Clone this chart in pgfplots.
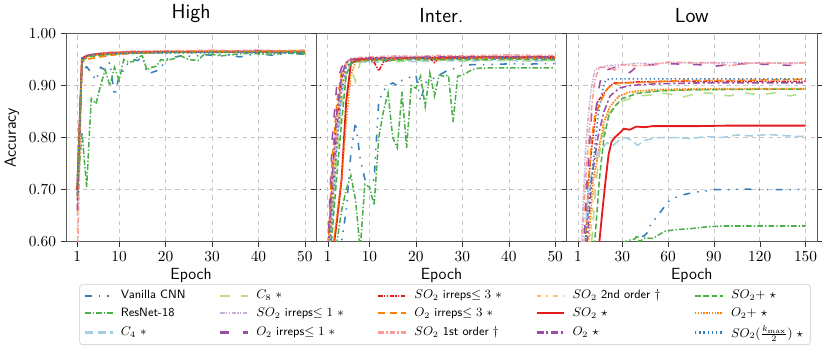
\documentclass[border=0pt]{standalone}
\usepackage{pgfplots}
\pgfplotsset{compat=1.18}

\definecolor{cblue}{HTML}{377EB8}
\definecolor{cgreen}{HTML}{4DAF4A}
\definecolor{clblue}{HTML}{A6CEE3}
\definecolor{clgreen}{HTML}{B2DF8A}
\definecolor{clpurple}{HTML}{CAB2D6}
\definecolor{cpurple}{HTML}{984EA3}
\definecolor{cred}{HTML}{E41A1C}
\definecolor{corange}{HTML}{FF7F00}
\definecolor{cpink}{HTML}{FB9A99}
\definecolor{clorange}{HTML}{FDBF6F}

\pgfplotsset{
  sVan/.style={draw=cblue, line width=1.1pt, dash pattern=on 5pt off 5pt on 1pt off 5pt on 1pt off 5pt},
  sRes/.style={draw=cgreen, line width=1.1pt, dash pattern=on 4pt off 1.5pt on 1pt off 1.5pt},
  sCfour/.style={draw=clblue, line width=1.1pt, dash pattern=on 6pt off 3pt},
  sCeight/.style={draw=clgreen, line width=1.1pt, dash pattern=on 7pt off 8pt},
  sSOa/.style={draw=clpurple, line width=1.1pt, dash pattern=on 3pt off 1pt on 1pt off 1pt on 1pt off 1pt},
  sOa/.style={draw=cpurple, line width=1.1pt, dash pattern=on 6pt off 10pt},
  sSOb/.style={draw=cred, line width=1.1pt, dash pattern=on 3pt off 1pt on 1pt off 1pt on 1pt off 1pt},
  sOb/.style={draw=corange, line width=1.1pt, dash pattern=on 5pt off 3pt},
  sFirst/.style={draw=cpink, line width=1.1pt, dash pattern=on 4pt off 1.5pt on 1pt off 1.5pt},
  sSecond/.style={draw=clorange, line width=1.1pt, dash pattern=on 3pt off 4pt on 1pt off 4pt},
  sSO/.style={draw=cred, line width=1.3pt, solid},
  sO/.style={draw=cpurple, line width=1.1pt, dash pattern=on 5pt off 2pt on 1.5pt off 2pt},
  sSOp/.style={draw=cgreen, line width=1.1pt, dash pattern=on 4pt off 2pt},
  sOp/.style={draw=corange, line width=1.1pt, dash pattern=on 1pt off 1pt},
  sKmax/.style={draw=cblue, line width=1.1pt, dash pattern=on 1pt off 2pt},
  panel/.style={
    width=178.5pt, height=148.4pt, scale only axis,
    ymin=0.6, ymax=1.0, ytick={0.6,0.7,0.8,0.9,1.0},
    grid=major, grid style={dashed, gray!45, line width=0.4pt},
    tick align=outside, xtick pos=bottom, ytick pos=both,
    major tick length=3.5pt,
    axis line style={black!65}, tick style={black!80},
    tick label style={font=\fontsize{11}{13}\selectfont},
    yticklabel style={/pgf/number format/.cd, fixed, fixed zerofill, precision=2},
    title style={font=\fontsize{14.5}{16}\selectfont\sffamily, yshift=-2pt},
    label style={font=\fontsize{11.5}{13}\selectfont\sffamily},
    xlabel={Epoch}, xlabel style={yshift=2pt},
    legend image code/.code={\draw[#1, line width=1.5pt] (0cm,0cm) -- (0.7cm,0cm);},
  },
}

\begin{document}
\begin{tikzpicture}
% ---------------- High ----------------
\begin{axis}[panel, name=a1, title={High}, ylabel={Accuracy},
  xmin=-1.45, xmax=52.45, xtick={1,10,20,30,40,50}]
\addplot[sVan] coordinates {(1,0.70)(2,0.93)(3,0.936)(4,0.925)(5,0.91)(6,0.935)(7,0.93)(8,0.945)(9,0.88)(10,0.918)(11,0.93)(12,0.944)(13,0.95)(14,0.948)(15,0.955)(16,0.924)(17,0.925)(18,0.928)(19,0.933)(20,0.95)(22,0.955)(24,0.958)(26,0.955)(28,0.96)(30,0.958)(33,0.96)(36,0.955)(40,0.962)(43,0.958)(46,0.962)(50,0.96)};
\addplot[sRes] coordinates {(1,0.69)(2,0.81)(3,0.705)(4,0.875)(5,0.865)(6,0.90)(7,0.93)(8,0.90)(9,0.935)(10,0.91)(11,0.95)(12,0.945)(13,0.946)(14,0.955)(15,0.957)(16,0.93)(17,0.935)(18,0.937)(19,0.95)(20,0.948)(22,0.952)(23,0.958)(25,0.95)(27,0.948)(28,0.958)(30,0.96)(32,0.957)(35,0.96)(38,0.962)(42,0.96)(46,0.962)(50,0.961)};
\addplot[sCfour] coordinates {(1,0.72)(2,0.948)(3,0.954)(4,0.957)(6,0.959)(8,0.961)(10,0.962)(13,0.963)(16,0.962)(20,0.964)(25,0.963)(30,0.965)(35,0.964)(40,0.965)(45,0.964)(50,0.965)};
\addplot[sCeight] coordinates {(1,0.70)(2,0.950)(3,0.955)(4,0.958)(6,0.960)(8,0.957)(10,0.962)(13,0.963)(16,0.964)(20,0.963)(25,0.964)(30,0.965)(35,0.964)(40,0.965)(45,0.965)(50,0.964)};
\addplot[sSOa] coordinates {(1,0.65)(2,0.953)(3,0.958)(4,0.960)(6,0.962)(8,0.963)(10,0.964)(13,0.965)(16,0.964)(20,0.966)(25,0.965)(30,0.967)(35,0.966)(40,0.966)(45,0.967)(50,0.966)};
\addplot[sOa] coordinates {(1,0.68)(2,0.952)(3,0.957)(4,0.959)(6,0.961)(8,0.963)(10,0.963)(13,0.964)(16,0.965)(20,0.965)(25,0.966)(30,0.965)(35,0.966)(40,0.967)(45,0.966)(50,0.966)};
\addplot[sSOb] coordinates {(1,0.70)(2,0.951)(3,0.956)(4,0.959)(6,0.961)(8,0.962)(10,0.964)(13,0.963)(16,0.965)(20,0.965)(25,0.964)(30,0.966)(35,0.965)(40,0.965)(45,0.966)(50,0.965)};
\addplot[sOb] coordinates {(1,0.70)(2,0.945)(3,0.950)(4,0.952)(6,0.955)(8,0.958)(10,0.960)(13,0.962)(16,0.963)(20,0.964)(25,0.965)(30,0.965)(35,0.966)(40,0.966)(45,0.966)(50,0.967)};
\addplot[sFirst] coordinates {(1,0.55)(2,0.950)(3,0.957)(4,0.960)(6,0.962)(8,0.964)(10,0.965)(13,0.966)(16,0.966)(20,0.967)(25,0.967)(30,0.968)(35,0.967)(40,0.968)(45,0.967)(50,0.968)};
\addplot[sSecond] coordinates {(1,0.62)(2,0.950)(3,0.956)(4,0.959)(6,0.961)(8,0.963)(10,0.964)(13,0.965)(16,0.965)(20,0.966)(25,0.966)(30,0.967)(35,0.966)(40,0.967)(45,0.967)(50,0.967)};
\addplot[sSO] coordinates {(1,0.70)(2,0.952)(3,0.957)(4,0.959)(6,0.961)(8,0.962)(10,0.963)(13,0.964)(16,0.964)(20,0.965)(25,0.965)(30,0.965)(35,0.965)(40,0.965)(45,0.965)(50,0.965)};
\addplot[sO] coordinates {(1,0.66)(2,0.951)(3,0.956)(4,0.959)(6,0.961)(8,0.962)(10,0.963)(13,0.964)(16,0.964)(20,0.965)(25,0.964)(30,0.965)(35,0.965)(40,0.966)(45,0.965)(50,0.965)};
\addplot[sSOp] coordinates {(1,0.69)(2,0.948)(3,0.953)(4,0.956)(6,0.958)(8,0.960)(10,0.961)(13,0.962)(16,0.963)(20,0.963)(25,0.964)(30,0.964)(35,0.964)(40,0.964)(45,0.965)(50,0.964)};
\addplot[sOp] coordinates {(1,0.72)(2,0.949)(3,0.955)(4,0.958)(6,0.960)(8,0.962)(10,0.963)(13,0.963)(16,0.964)(20,0.964)(25,0.965)(30,0.965)(35,0.965)(40,0.965)(45,0.966)(50,0.965)};
\addplot[sKmax] coordinates {(1,0.71)(2,0.951)(3,0.956)(4,0.959)(6,0.960)(8,0.961)(10,0.962)(13,0.962)(16,0.963)(20,0.963)(25,0.963)(30,0.963)(35,0.964)(40,0.963)(45,0.963)(50,0.963)};
\end{axis}

% ---------------- Inter. ----------------
\begin{axis}[panel, name=a2, at={(a1.south east)}, anchor=south west, title={Inter.},
  yticklabels={}, xmin=-1.45, xmax=52.45, xtick={1,10,20,30,40,50}]
\addplot[sVan] coordinates {(1,0.40)(2,0.50)(3,0.56)(4,0.60)(5,0.66)(6,0.77)(7,0.83)(8,0.76)(9,0.72)(10,0.705)(11,0.72)(12,0.87)(13,0.89)(14,0.90)(15,0.905)(16,0.90)(17,0.91)(18,0.912)(19,0.918)(20,0.92)(21,0.87)(22,0.905)(23,0.91)(24,0.915)(25,0.92)(26,0.925)(27,0.93)(28,0.932)(29,0.937)(30,0.938)(32,0.94)(35,0.94)(38,0.941)(41,0.942)(44,0.941)(47,0.942)(50,0.942)};
\addplot[sRes] coordinates {(1,0.40)(2,0.50)(3,0.60)(4,0.66)(5,0.70)(6,0.727)(7,0.68)(8,0.585)(9,0.71)(10,0.705)(11,0.67)(12,0.80)(13,0.85)(14,0.886)(15,0.80)(16,0.78)(17,0.888)(18,0.78)(19,0.90)(20,0.895)(21,0.918)(22,0.86)(23,0.924)(24,0.88)(25,0.92)(26,0.918)(27,0.92)(28,0.83)(29,0.918)(30,0.92)(31,0.925)(32,0.93)(33,0.933)(36,0.934)(40,0.934)(45,0.934)(50,0.934)};
\addplot[sCfour] coordinates {(1,0.55)(2,0.66)(3,0.78)(4,0.88)(5,0.93)(6,0.944)(7,0.945)(8,0.946)(10,0.944)(13,0.946)(16,0.947)(20,0.946)(25,0.948)(30,0.947)(35,0.948)(40,0.948)(45,0.947)(50,0.948)};
\addplot[sCeight] coordinates {(1,0.54)(2,0.64)(3,0.76)(4,0.86)(5,0.92)(6,0.93)(7,0.908)(8,0.945)(10,0.947)(13,0.948)(16,0.946)(20,0.948)(25,0.949)(30,0.948)(35,0.949)(40,0.949)(45,0.948)(50,0.949)};
\addplot[sSOa] coordinates {(1,0.56)(2,0.72)(3,0.84)(4,0.92)(5,0.945)(6,0.950)(8,0.952)(10,0.953)(13,0.954)(16,0.953)(20,0.955)(25,0.954)(30,0.956)(35,0.955)(40,0.955)(45,0.956)(50,0.955)};
\addplot[sOa] coordinates {(1,0.58)(2,0.80)(3,0.905)(4,0.935)(5,0.945)(6,0.950)(8,0.952)(10,0.953)(13,0.952)(16,0.954)(20,0.955)(25,0.954)(30,0.955)(35,0.956)(40,0.955)(45,0.956)(50,0.956)};
\addplot[sSOb] coordinates {(1,0.55)(2,0.70)(3,0.82)(4,0.91)(5,0.945)(6,0.950)(8,0.952)(10,0.950)(11,0.945)(12,0.928)(13,0.945)(15,0.952)(18,0.953)(21,0.954)(23,0.952)(24,0.944)(25,0.952)(28,0.955)(32,0.954)(36,0.955)(40,0.956)(45,0.955)(50,0.955)};
\addplot[sOb] coordinates {(1,0.57)(2,0.76)(3,0.87)(4,0.925)(5,0.943)(6,0.948)(8,0.950)(10,0.951)(13,0.952)(16,0.953)(20,0.953)(25,0.954)(30,0.954)(35,0.955)(40,0.954)(45,0.955)(50,0.955)};
\addplot[sFirst] coordinates {(1,0.54)(2,0.70)(3,0.83)(4,0.915)(5,0.945)(6,0.952)(8,0.954)(10,0.955)(13,0.956)(16,0.957)(20,0.956)(25,0.958)(30,0.957)(35,0.958)(40,0.959)(45,0.958)(50,0.958)};
\addplot[sSecond] coordinates {(1,0.55)(2,0.69)(3,0.81)(4,0.90)(5,0.94)(6,0.948)(8,0.950)(10,0.952)(13,0.951)(16,0.953)(20,0.952)(25,0.954)(30,0.953)(35,0.954)(40,0.954)(45,0.953)(50,0.954)};
\addplot[sSO] coordinates {(1,0.50)(2,0.57)(3,0.64)(4,0.72)(5,0.87)(6,0.942)(7,0.948)(8,0.950)(10,0.951)(13,0.952)(16,0.952)(20,0.953)(25,0.953)(30,0.953)(35,0.954)(40,0.953)(45,0.954)(50,0.953)};
\addplot[sO] coordinates {(1,0.56)(2,0.73)(3,0.85)(4,0.92)(5,0.944)(6,0.950)(8,0.952)(10,0.953)(13,0.953)(16,0.954)(20,0.954)(25,0.955)(30,0.955)(35,0.955)(40,0.955)(45,0.955)(50,0.955)};
\addplot[sSOp] coordinates {(1,0.52)(2,0.62)(3,0.73)(4,0.83)(5,0.92)(6,0.943)(8,0.947)(10,0.948)(13,0.949)(16,0.949)(20,0.950)(25,0.950)(30,0.950)(35,0.950)(40,0.951)(45,0.950)(50,0.950)};
\addplot[sOp] coordinates {(1,0.50)(2,0.58)(3,0.65)(4,0.72)(5,0.83)(6,0.92)(7,0.945)(8,0.948)(10,0.950)(13,0.951)(16,0.951)(20,0.952)(25,0.952)(30,0.952)(35,0.953)(40,0.952)(45,0.953)(50,0.952)};
\addplot[sKmax] coordinates {(1,0.53)(2,0.66)(3,0.79)(4,0.89)(5,0.935)(6,0.946)(8,0.949)(10,0.950)(13,0.951)(16,0.951)(20,0.952)(25,0.952)(30,0.952)(35,0.952)(40,0.953)(45,0.952)(50,0.952)};
\end{axis}

% ---------------- Low ----------------
\begin{axis}[panel, name=a3, at={(a2.south east)}, anchor=south west, title={Low},
  yticklabels={}, xmin=-6.45, xmax=157.45, xtick={1,30,60,90,120,150},
  legend columns=5, legend cell align=left,
  legend style={at={(-0.486,-0.205)}, anchor=north, draw=black!20, rounded corners=2pt,
    fill=white, font=\fontsize{8.6}{10}\selectfont\sffamily, row sep=1pt,
    /tikz/every even column/.append style={column sep=22pt},
    /tikz/every odd column/.append style={column sep=3pt}}]
% row 1
\addplot[sVan] coordinates {(1,0.35)(20,0.50)(37,0.60)(40,0.613)(44,0.61)(47,0.619)(49,0.637)(52,0.645)(55,0.657)(60,0.677)(65,0.685)(70,0.69)(77,0.695)(84,0.697)(90,0.70)(100,0.70)(110,0.701)(120,0.70)(130,0.70)(140,0.70)(150,0.701)};
\addlegendentry{Vanilla CNN}
\addplot[sCeight] coordinates {(1,0.40)(10,0.60)(13,0.72)(16,0.79)(20,0.84)(25,0.86)(30,0.87)(40,0.88)(50,0.882)(55,0.886)(60,0.884)(70,0.878)(80,0.886)(90,0.885)(100,0.880)(110,0.886)(120,0.882)(130,0.886)(140,0.880)(150,0.886)};
\addlegendentry{$C_8\ \ast$}
\addplot[sSOb] coordinates {(1,0.40)(6,0.60)(8,0.72)(10,0.78)(12,0.83)(14,0.87)(18,0.885)(22,0.90)(25,0.905)(30,0.905)(40,0.907)(60,0.908)(90,0.908)(120,0.908)(150,0.908)};
\addlegendentry{$SO_2$ irreps$\leq 3\ \ast$}
\addplot[sSecond] coordinates {(1,0.40)(9,0.60)(12,0.72)(15,0.79)(18,0.83)(22,0.86)(28,0.88)(40,0.888)(60,0.89)(90,0.892)(120,0.892)(150,0.893)};
\addlegendentry{$SO_2$ 2nd order $\dagger$}
\addplot[sSOp] coordinates {(1,0.40)(12,0.60)(15,0.72)(18,0.80)(21,0.84)(25,0.86)(30,0.875)(40,0.885)(55,0.89)(80,0.892)(120,0.893)(150,0.893)};
\addlegendentry{$SO_2{+}\ \star$}
% row 2
\addplot[sRes] coordinates {(1,0.40)(20,0.55)(30,0.598)(35,0.603)(38,0.605)(40,0.612)(41,0.60)(45,0.607)(50,0.606)(55,0.615)(58,0.62)(65,0.623)(75,0.625)(84,0.628)(95,0.63)(110,0.63)(130,0.63)(150,0.63)};
\addlegendentry{ResNet-18}
\addplot[sSOa] coordinates {(1,0.40)(3,0.58)(4,0.65)(6,0.78)(8,0.85)(10,0.90)(12,0.93)(15,0.935)(20,0.938)(30,0.94)(40,0.943)(50,0.942)(60,0.944)(80,0.943)(100,0.944)(120,0.943)(150,0.944)};
\addlegendentry{$SO_2$ irreps$\leq 1\ \ast$}
\addplot[sOb] coordinates {(1,0.40)(6,0.60)(8,0.72)(10,0.80)(12,0.84)(16,0.87)(20,0.893)(23,0.90)(28,0.905)(35,0.905)(50,0.907)(70,0.91)(100,0.91)(130,0.911)(150,0.912)};
\addlegendentry{$O_2$ irreps$\leq 3\ \ast$}
\addplot[sSO] coordinates {(1,0.30)(14,0.55)(15,0.60)(17,0.66)(19,0.716)(21,0.767)(23,0.792)(25,0.80)(28,0.808)(31,0.817)(35,0.815)(39,0.821)(45,0.82)(50,0.822)(60,0.822)(80,0.822)(100,0.823)(150,0.823)};
\addlegendentry{$SO_2\ \star$}
\addplot[sOp] coordinates {(1,0.40)(8,0.60)(11,0.72)(15,0.78)(18,0.83)(22,0.86)(28,0.88)(35,0.888)(50,0.892)(80,0.894)(120,0.894)(150,0.894)};
\addlegendentry{$O_2{+}\ \star$}
% row 3
\addplot[sCfour] coordinates {(1,0.40)(5,0.60)(8,0.70)(11,0.75)(14,0.77)(17,0.78)(20,0.79)(24,0.785)(28,0.795)(32,0.80)(36,0.795)(40,0.785)(45,0.795)(50,0.798)(55,0.80)(65,0.80)(75,0.798)(85,0.802)(95,0.80)(105,0.805)(115,0.803)(125,0.806)(135,0.804)(145,0.802)(150,0.803)};
\addlegendentry{$C_4\ \ast$}
\addplot[sOa] coordinates {(1,0.40)(5,0.60)(7,0.72)(10,0.85)(12,0.84)(15,0.90)(17,0.927)(20,0.93)(25,0.935)(30,0.93)(35,0.925)(40,0.938)(50,0.94)(60,0.942)(80,0.94)(90,0.937)(100,0.94)(110,0.942)(130,0.94)(145,0.938)(150,0.94)};
\addlegendentry{$O_2$ irreps$\leq 1\ \ast$}
\addplot[sFirst] coordinates {(1,0.40)(4,0.60)(6,0.72)(8,0.80)(10,0.86)(12,0.91)(15,0.935)(20,0.935)(25,0.93)(30,0.94)(40,0.938)(50,0.94)(60,0.945)(80,0.944)(90,0.944)(100,0.938)(110,0.942)(120,0.944)(140,0.942)(150,0.944)};
\addlegendentry{$SO_2$ 1st order $\dagger$}
\addplot[sO] coordinates {(1,0.40)(7,0.60)(10,0.72)(14,0.80)(18,0.85)(22,0.88)(28,0.895)(35,0.90)(50,0.903)(80,0.905)(120,0.905)(150,0.905)};
\addlegendentry{$O_2\ \star$}
\addplot[sKmax] coordinates {(1,0.40)(6,0.60)(9,0.70)(12,0.78)(14,0.84)(17,0.89)(19,0.91)(22,0.913)(30,0.913)(60,0.913)(100,0.913)(150,0.913)};
\addlegendentry{$SO_2(\frac{k_{\max}}{2})\ \star$}
\end{axis}
\end{tikzpicture}
\end{document}
